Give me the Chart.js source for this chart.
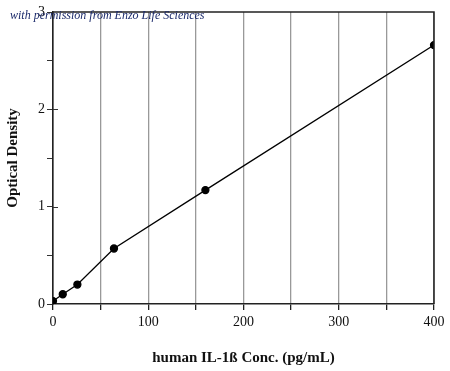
<!DOCTYPE html>
<html>
<head>
<meta charset="utf-8">
<script src="https://cdn.jsdelivr.net/npm/chart.js@4/dist/chart.umd.min.js"></script>
<style>
  body { margin: 0; background: #fff; }
  #wrap { width: 450px; height: 371px; }
</style>
</head>
<body>
<div id="wrap"><canvas id="c" width="450" height="371"></canvas></div>
<script>
// standard curve values
const concentrations = [0, 10.24, 25.6, 64, 160, 400]
const opticalDensity = [0.03, 0.10, 0.20, 0.57, 1.17, 2.66]
const xTitle = 'human IL-1ß Conc. (pg/mL)'
const yTitle = 'Optical Density'
const credit = 'with permission from Enzo Life Sciences'

const points = concentrations.map((x, i) => ({ x: x, y: opticalDensity[i] }))

const serif = '"Liberation Serif", "DejaVu Serif", serif'

// box round the plot, the inner half of the y major ticks and the credit line
const framePlugin = {
  id: 'frame',
  afterDraw (chart) {
    const { ctx, chartArea } = chart
    const yScale = chart.scales.y
    ctx.save()
    ctx.strokeStyle = '#222'
    ctx.lineWidth = 1.5
    ctx.beginPath()
    ctx.moveTo(chartArea.left, chartArea.top)
    ctx.lineTo(chartArea.right, chartArea.top)
    ctx.lineTo(chartArea.right, chartArea.bottom)
    ctx.stroke()
    ctx.lineWidth = 1
    ctx.strokeStyle = '#333'
    ctx.beginPath()
    yScale.ticks.forEach(t => {
      if (t.value % 1 === 0 && t.value > 0 && t.value < 3) {
        const py = Math.round(yScale.getPixelForValue(t.value)) + 0.5
        ctx.moveTo(chartArea.left, py)
        ctx.lineTo(chartArea.left + 5, py)
      }
    })
    ctx.stroke()
    ctx.font = 'italic 12px ' + serif
    ctx.fillStyle = '#1b2a6b'
    ctx.textBaseline = 'alphabetic'
    ctx.fillText(credit, 10, 19)
    ctx.restore()
  }
}

const ctx = document.getElementById('c')
const myChart = new Chart(ctx, {
  type: 'scatter',
  data: {
    datasets: [
      {
        data: points,
        showLine: true,
        borderColor: '#000',
        backgroundColor: '#000',
        borderWidth: 1.3,
        pointRadius: 3.5,
        tension: 0
      }
    ]
  },
  options: {
    responsive: false,
    animation: false,
    layout: { padding: { top: 12, right: 16, left: 4, bottom: 4 } },
    plugins: {
      legend: { display: false },
      tooltip: { enabled: false }
    },
    scales: {
      x: {
        type: 'linear',
        min: 0,
        max: 400,
        afterFit: (scale) => { scale.height = 63 },
        ticks: {
          stepSize: 50,
          autoSkip: false,
          maxRotation: 0,
          padding: 4,
          color: '#111',
          font: { family: serif, size: 14 },
          callback: (v) => (v % 100 === 0 ? v : '')
        },
        grid: {
          color: (c) => (c.tick && c.tick.value === 0 ? '#222' : '#999'),
          lineWidth: 1.3,
          tickColor: '#222',
          tickLength: 6
        },
        border: { color: '#222', width: 1.5 },
        title: {
          display: true,
          text: xTitle,
          color: '#111',
          font: { family: serif, size: 15, weight: 'bold' },
          padding: { top: 6, bottom: 0 }
        }
      },
      y: {
        type: 'linear',
        min: 0,
        max: 3,
        afterFit: (scale) => { scale.width = 49 },
        ticks: {
          stepSize: 0.5,
          autoSkip: false,
          padding: 2,
          color: '#111',
          font: { family: serif, size: 14 },
          callback: (v) => (v % 1 === 0 ? v : '')
        },
        grid: {
          drawOnChartArea: false,
          tickColor: '#333',
          tickLength: 6
        },
        border: { color: '#222', width: 1.5 },
        title: {
          display: true,
          text: yTitle,
          color: '#111',
          font: { family: serif, size: 15, weight: 'bold' },
          padding: { top: 0, bottom: 3 }
        }
      }
    }
  },
  plugins: [framePlugin]
})
</script>
</body>
</html>
